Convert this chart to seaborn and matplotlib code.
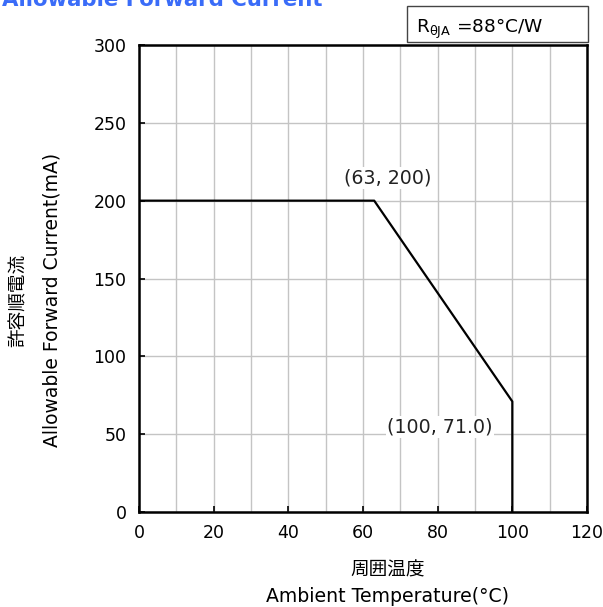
import matplotlib
matplotlib.use("Agg")
import matplotlib.pyplot as plt
import matplotlib.patches as mpatches
import seaborn as sns
import pandas as pd

# Données de la courbe de déclassement
temps = [0, 63, 100, 100]
currents = [200, 200, 71.0, 0]
x_ticks = [0, 20, 40, 60, 80, 100, 120]
y_ticks = [0, 50, 100, 150, 200, 250, 300]
x_grid = list(range(0, 121, 10))
labels = ["(63, 200)", "(100, 71.0)"]
label_pos = [(66.7, 214.5), (80.6, 54.5)]

sns.set_style("white")
plt.rcParams['font.family'] = ['DejaVu Sans', 'Noto Sans CJK JP']

df = pd.DataFrame({"temp": temps, "current": currents})

fig = plt.figure(figsize=(6.03, 6.07), dpi=100)
ax = fig.add_axes([139 / 603, 95 / 607, 448 / 603, 467 / 607])

sns.lineplot(data=df, x="temp", y="current", sort=False, estimator=None,
             color="black", linewidth=1.6, ax=ax, zorder=3)

ax.set_xlim(0, 120)
ax.set_ylim(0, 300)
ax.set_xticks(x_ticks)
ax.set_xticks(x_grid, minor=True)
ax.set_yticks(y_ticks)
ax.grid(True, which="both", axis="x", color="#c4c4c4", linewidth=1.0)
ax.grid(True, which="major", axis="y", color="#c4c4c4", linewidth=1.0)
ax.set_axisbelow(True)
ax.tick_params(axis="both", which="major", direction="in", length=4,
               width=1.2, labelsize=12.5, colors="black", pad=9,
               bottom=True, left=True, top=False, right=False)
ax.tick_params(axis="x", which="minor", length=0)
ax.set_xlabel("")
ax.set_ylabel("")
for s in ax.spines.values():
    s.set_linewidth(1.8)
    s.set_color("black")

# Étiquettes des points
for txt, (px, py) in zip(labels, label_pos):
    ax.text(px, py, txt, ha="center", va="center", fontsize=13.7,
            color="#222222", zorder=4,
            bbox=dict(facecolor="white", edgecolor="none", pad=1.0))

# Titre (coupé en haut)
fig.text(2 / 603, 1 - 6 / 607, "Allowable Forward Current", fontsize=15.3,
         fontweight="bold", color="#3a6cf8", ha="left", va="baseline")

# Boîte R_thetaJA
rect = mpatches.Rectangle((407 / 603, 1 - 42 / 607), 181 / 603, 36 / 607,
                          transform=fig.transFigure, facecolor="white",
                          edgecolor="#444444", linewidth=1.0)
fig.patches.append(rect)
fig.text(416 / 603, 1 - 33 / 607, r"R$\mathregular{_{θJA}}$ =88°C/W",
         fontsize=13.3, ha="left", va="baseline", color="black")

# Titres des axes
fig.text(388 / 603, 1 - 570 / 607, "周囲温度", fontsize=13.4, ha="center",
         va="center", color="black")
fig.text(388 / 603, 1 - 597 / 607, "Ambient Temperature(°C)", fontsize=13.6,
         ha="center", va="center", color="black")
fig.text(18 / 603, 1 - 300 / 607, "許容順電流", fontsize=13.4, rotation=90,
         ha="center", va="center", color="black")
fig.text(52 / 603, 1 - 300 / 607, "Allowable Forward Current(mA)",
         fontsize=13.5, rotation=90, ha="center", va="center", color="black")

fig.savefig("out.png", dpi=100)
plt.close(fig)
